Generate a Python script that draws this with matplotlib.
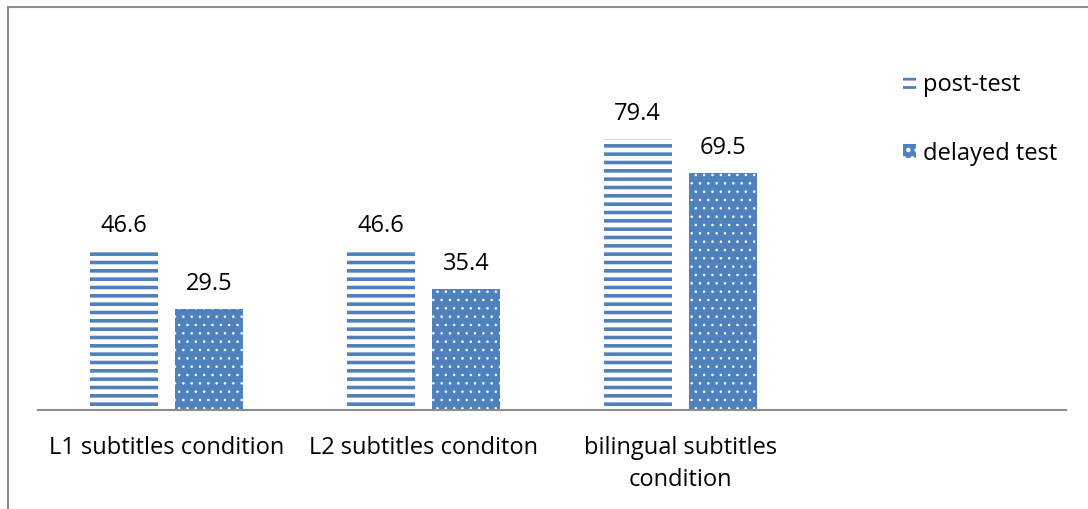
import matplotlib
matplotlib.use('Agg')
import matplotlib.pyplot as plt
import numpy as np
from matplotlib.patches import Rectangle

# ── 데이터 ─────────────────────────────────────────────
categories = ['L1 subtitles condition', 'L2 subtitles conditon',
              'bilingual subtitles\ncondition', '']
post_test = [46.6, 46.6, 79.4]
delayed_test = [29.5, 35.4, 69.5]
series_names = ['post-test', 'delayed test']

BLUE = '#4F81BD'
FS = 17
plt.rcParams['font.family'] = ['Open Sans', 'DejaVu Sans']

fig = plt.figure(figsize=(10.88, 5.09), dpi=100)
ax = fig.add_axes([38 / 1088, 99 / 509, 1028 / 1088, 341 / 509])

x = np.arange(len(post_test))
w = 0.265
off = 0.167

with plt.rc_context({'hatch.linewidth': 2.6}):
    b1 = ax.bar(x - off, post_test, w, facecolor='white', edgecolor=BLUE,
                linewidth=0, hatch='--', label=series_names[0])
with plt.rc_context({'hatch.linewidth': 0.6}):
    b2 = ax.bar(x + off, delayed_test, w, facecolor=BLUE, edgecolor='white',
                linewidth=0, hatch='..', label=series_names[1])

for bars, vals in [(b1, post_test), (b2, delayed_test)]:
    for bar, v in zip(bars, vals):
        ax.annotate(f'{v:.1f}', (bar.get_x() + bar.get_width() / 2, v),
                    xytext=(0, 9.5), textcoords='offset points',
                    ha='center', va='bottom', fontsize=FS)

ax.set_xlim(-0.5, 3.5)
ax.set_ylim(0, 100)
ax.set_xticks(np.arange(len(categories)))
ax.set_xticklabels(categories, fontsize=FS, linespacing=1.4)
ax.tick_params(axis='x', length=0, pad=19)
ax.set_yticks([])
for s in ['left', 'right', 'top']:
    ax.spines[s].set_visible(False)
ax.spines['bottom'].set_color('#8c8c8c')
ax.spines['bottom'].set_linewidth(1.5)

with plt.rc_context({'hatch.linewidth': 2.0}):
    fig.legend(loc='upper left', bbox_to_anchor=(891 / 1088, 1 - 61 / 509),
               frameon=False, fontsize=FS, handlelength=0.55, handleheight=0.55,
               handletextpad=0.3, labelspacing=1.9, borderpad=0)

# 차트 영역 테두리
fig.patches.append(Rectangle((8 / 1088, -0.1), 1.2, 1.1 - 7 / 509,
                             transform=fig.transFigure, fill=False,
                             edgecolor='#8c8c8c', linewidth=1.5))

fig.savefig('out.png', dpi=100)
